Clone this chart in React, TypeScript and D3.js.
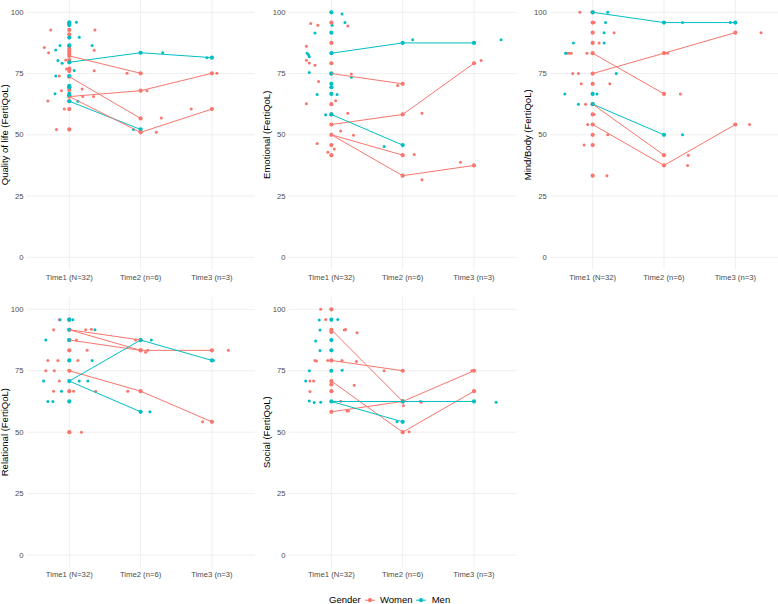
import React from 'react';
import * as d3 from 'd3';

const times = ['Time1 (N=32)', 'Time2 (n=6)', 'Time3 (n=3)'];
const yTicks = [0, 25, 50, 75, 100];
const titles = [
  'Quality of life (FertiQoL)',
  'Emotional (FertiQoL)',
  'Mind/Body (FertiQoL)',
  'Relational (FertiQoL)',
  'Social (FertiQoL)',
];
const colors: Record<string, string> = { W: '#F8766D', M: '#00BFC4' };

// participant trajectories: gender, time1, time2, time3
type Traj = [string, number, number | null, number | null];
// jittered points: gender, time index, x offset (in category steps), value
type Jit = [string, number, number, number];

// ---- Quality of life
const qolLines: Traj[] = [
  ['M', 79.6, 83.5, 81.5], ['M', 63.7, 52.2, null], ['W', 82.2, 75.1, null],
  ['W', 73.7, 56.7, null], ['W', 65.6, 68.0, 75.1], ['W', 65.6, 51.0, 60.5],
];
const qolT1W = [92.8, 91.0, 86.0, 85.0, 84.0, 83.0, 82.2, 80.5, 77.0, 76.0, 73.7, 69.4, 68.3, 65.6, 63.8, 60.5, 52.2];
const qolT1M = [95.9, 95.3, 94.8, 89.7, 86.5, 79.6, 74.0, 70.0, 69.4, 66.7, 66.1, 63.7];
const qolJit: Jit[] = [
  ['W', 0, -0.35, 85.6], ['W', 0, -0.29, 83.5], ['W', 0, -0.26, 92.8], ['W', 0, -0.18, 52.2],
  ['W', 0, -0.14, 74.0], ['W', 0, -0.11, 68.0], ['W', 0, -0.07, 60.5], ['W', 0, -0.05, 80.5],
  ['W', 0, -0.30, 63.8], ['W', 0, -0.04, 76.9], ['W', 0, 0.18, 68.7], ['W', 0, 0.19, 65.6],
  ['W', 0, 0.34, 65.6], ['W', 0, 0.35, 76.1], ['W', 0, 0.35, 84.5], ['W', 0, 0.36, 92.8],
  ['M', 0, -0.19, 84.6], ['M', 0, -0.16, 80.3], ['M', 0, -0.13, 86.5], ['M', 0, -0.10, 79.2],
  ['M', 0, -0.19, 74.0], ['M', 0, -0.20, 66.8], ['M', 0, 0.07, 76.2], ['M', 0, 0.10, 95.9],
  ['M', 0, 0.14, 89.8], ['M', 0, 0.12, 63.7], ['M', 0, 0.32, 86.5],
  ['M', 1, 0.31, 83.5], ['M', 1, -0.10, 52.2], ['W', 1, -0.19, 75.1], ['W', 1, 0.29, 56.9],
  ['W', 1, 0.09, 68.0], ['W', 1, 0.22, 51.0],
  ['M', 2, -0.07, 81.5], ['W', 2, 0.07, 75.1], ['W', 2, -0.29, 60.5],
];

// ---- Emotional
const emoLines: Traj[] = [
  ['M', 83.3, 87.5, 87.5], ['W', 75, 70.8, null], ['W', 54.2, 58.3, 79.2],
  ['M', 58.3, 45.8, null], ['W', 50, 41.7, null], ['W', 50, 33.3, 37.5],
];
const emoT1W = [95.8, 87.5, 79.2, 75, 62.5, 58.3, 54.2, 50, 45.8, 41.7];
const emoT1M = [100, 91.7, 83.3, 75, 70.8, 69.4, 66.7, 58.3];
const emoJit: Jit[] = [
  ['M', 0, 0.15, 99.3], ['M', 0, 0.19, 95.8], ['M', 0, 0.01, 94.7], ['M', 0, -0.23, 91.6],
  ['M', 0, -0.34, 83.3], ['M', 0, -0.32, 82.6], ['M', 0, -0.31, 81.9], ['M', 0, -0.31, 75.4],
  ['M', 0, -0.20, 66.5], ['M', 0, 0.08, 66.5], ['M', 0, 0.0, 69.4], ['M', 0, 0.28, 73.5],
  ['M', 0, -0.08, 58.2],
  ['W', 0, -0.29, 95.4], ['W', 0, -0.19, 94.7], ['W', 0, 0.23, 94.4], ['W', 0, -0.35, 86.1],
  ['W', 0, -0.35, 80.4], ['W', 0, -0.31, 79.3], ['W', 0, -0.23, 78.4], ['W', 0, -0.18, 71.8],
  ['W', 0, 0.28, 74.8], ['W', 0, -0.35, 62.7], ['W', 0, 0.06, 63.9], ['W', 0, 0.23, 58.8],
  ['W', 0, 0.13, 51.6], ['W', 0, 0.31, 49.8], ['W', 0, -0.20, 46.5], ['W', 0, -0.05, 42.9],
  ['W', 0, 0.04, 44.2], ['W', 0, 0.0, 41.6],
  ['M', 1, 0.14, 88.8], ['M', 1, -0.26, 45.2], ['W', 1, -0.07, 70.1], ['W', 1, 0.27, 58.8],
  ['W', 1, 0.16, 42.0], ['W', 1, 0.27, 31.7],
  ['M', 2, 0.38, 88.8], ['W', 2, 0.10, 80.3], ['W', 2, -0.19, 38.8],
];

// ---- Mind/Body
const mbLines: Traj[] = [
  ['M', 100, 95.8, 95.8], ['W', 75, 83.3, 91.7], ['W', 83.3, 66.7, null],
  ['M', 62.5, 50, null], ['W', 62.5, 41.7, null], ['W', 54.2, 37.5, 54.2],
];
const mbT1W = [100, 95.8, 91.7, 87.5, 83.3, 75, 70.8, 62.5, 58.3, 54.2, 50, 45.8, 33.3];
const mbT1M = [100, 66.7, 62.5];
const mbJit: Jit[] = [
  ['W', 0, -0.18, 100], ['W', 0, 0.30, 91.7], ['W', 0, 0.09, 87.5], ['W', 0, -0.36, 83.3],
  ['W', 0, -0.33, 83.3], ['W', 0, -0.30, 83.3], ['W', 0, -0.08, 83.3], ['W', 0, -0.28, 75],
  ['W', 0, -0.20, 75], ['W', 0, -0.16, 70.8], ['W', 0, 0.24, 70.8], ['W', 0, -0.10, 62.5],
  ['W', 0, -0.07, 54.2], ['W', 0, 0.21, 50], ['W', 0, -0.12, 45.8], ['W', 0, 0.20, 33.3],
  ['W', 0, 0.02, 58.3], ['W', 0, 0.02, 95.8],
  ['M', 0, 0.21, 100], ['M', 0, 0.18, 95.8], ['M', 0, -0.27, 87.5], ['M', 0, 0.16, 91.7],
  ['M', 0, 0.16, 87.5], ['M', 0, -0.38, 83.3], ['M', 0, 0.33, 75], ['M', 0, -0.39, 66.7],
  ['M', 0, 0.06, 66.7], ['M', 0, -0.20, 62.5],
  ['M', 1, 0.26, 95.8], ['M', 1, 0.26, 50], ['W', 1, 0.05, 83.3], ['W', 1, 0.23, 66.7],
  ['W', 1, 0.34, 41.7], ['W', 1, 0.33, 37.5],
  ['M', 2, -0.07, 95.8], ['W', 2, 0.36, 91.7], ['W', 2, 0.20, 54.2],
];

// ---- Relational
const relLines: Traj[] = [
  ['W', 91.7, 87.5, null], ['W', 91.7, 83.3, 83.3], ['W', 87.5, 83.3, null],
  ['W', 75, 66.7, 54.2], ['M', 70.8, 87.5, 79.2], ['M', 70.8, 58.3, null],
];
const relT1W = [95.8, 91.7, 87.5, 83.3, 75, 66.7, 50];
const relT1M = [95.8, 91.7, 87.5, 79.2, 70.8, 62.5];
const relJit: Jit[] = [
  ['W', 0, -0.14, 95.8], ['W', 0, -0.22, 91.7], ['W', 0, 0.23, 91.7], ['W', 0, 0.31, 91.9],
  ['W', 0, 0.10, 87.5], ['W', 0, 0.25, 83.3], ['W', 0, -0.30, 79.2], ['W', 0, -0.16, 79.2],
  ['W', 0, 0.12, 79.2], ['W', 0, -0.33, 75], ['W', 0, -0.21, 75], ['W', 0, -0.14, 70.8],
  ['W', 0, -0.22, 66.7], ['W', 0, 0.06, 66.7], ['W', 0, 0.37, 66.7], ['W', 0, 0.17, 50],
  ['M', 0, -0.33, 87.5], ['M', 0, -0.13, 95.8], ['M', 0, 0.05, 95.8], ['M', 0, 0.36, 91.7],
  ['M', 0, 0.32, 79.2], ['M', 0, -0.36, 70.8], ['M', 0, 0.14, 70.8], ['M', 0, 0.26, 70.8],
  ['M', 0, -0.30, 62.5], ['M', 0, -0.23, 62.5], ['M', 0, -0.11, 66.7],
  ['M', 1, 0.15, 87.5], ['M', 1, 0.13, 58.3], ['W', 1, -0.07, 87.5], ['W', 1, 0.07, 82.5],
  ['W', 1, 0.10, 83.3], ['W', 1, -0.18, 66.7],
  ['M', 2, 0.02, 79.2], ['W', 2, 0.23, 83.3], ['W', 2, -0.13, 54.2],
];

// ---- Social
const socLines: Traj[] = [
  ['W', 91.7, 62.5, null], ['W', 79.2, 75, null], ['W', 70.8, 50, 66.7],
  ['W', 58.3, 62.5, 75], ['M', 62.5, 62.5, 62.5], ['M', 62.5, 54.2, null],
];
const socT1W = [100, 91.7, 90.8, 79.2, 70.8, 69.4, 66.7, 58.3];
const socT1M = [95.8, 87.5, 83.3, 75, 62.5];
const socJit: Jit[] = [
  ['W', 0, -0.15, 100], ['W', 0, -0.08, 95.9], ['W', 0, 0.18, 91.6], ['W', 0, 0.20, 91.8],
  ['W', 0, 0.36, 90.5], ['W', 0, -0.23, 79.2], ['W', 0, -0.21, 79.0], ['W', 0, -0.05, 79.2],
  ['W', 0, 0.15, 79.2], ['W', 0, 0.35, 78.8], ['W', 0, -0.30, 70.8], ['W', 0, -0.25, 70.8],
  ['W', 0, -0.30, 66.6], ['W', 0, 0.32, 69.1], ['W', 0, 0.13, 62.6], ['W', 0, 0.22, 58.6],
  ['W', 0, 0.24, 58.6],
  ['M', 0, -0.17, 95.7], ['M', 0, 0.09, 95.9], ['M', 0, -0.16, 91.6], ['M', 0, -0.22, 87.1],
  ['M', 0, -0.16, 83.2], ['M', 0, -0.31, 75.0], ['M', 0, 0.15, 75.2], ['M', 0, -0.36, 70.8],
  ['M', 0, -0.31, 62.7], ['M', 0, -0.24, 62.1], ['M', 0, -0.15, 62.2],
  ['M', 1, 0.25, 62.5], ['M', 1, -0.08, 54.2], ['W', 1, -0.26, 75], ['W', 1, 0.26, 62.2],
  ['W', 1, 0.01, 60.8], ['W', 1, 0.09, 50.2],
  ['M', 2, 0.31, 62.2], ['W', 2, -0.03, 75], ['W', 2, 0.0, 66.7],
];

const panels = [
  { title: titles[0], lines: qolLines, t1W: qolT1W, t1M: qolT1M, jit: qolJit },
  { title: titles[1], lines: emoLines, t1W: emoT1W, t1M: emoT1M, jit: emoJit },
  { title: titles[2], lines: mbLines, t1W: mbT1W, t1M: mbT1M, jit: mbJit },
  { title: titles[3], lines: relLines, t1W: relT1W, t1M: relT1M, jit: relJit },
  { title: titles[4], lines: socLines, t1W: socT1W, t1M: socT1M, jit: socJit },
];

const W = 778;
const H = 604;
const font = '"Liberation Sans", Arial, Helvetica, sans-serif';
const panelW = 228.2;
const colLeft = [26.5, 288.6, 549.9];
const rowY = [[269.55, 0.05], [567.3, 297.05]];

function Panel({ p, i }: { p: typeof panels[number]; i: number }) {
  const left = colLeft[i % 3];
  const [bottom, top] = rowY[Math.floor(i / 3)];
  const x = d3.scalePoint<string>().domain(times).range([left, left + panelW]).padding(0.6);
  const step = x.step();
  const y = d3.scaleLinear().domain([-5, 105]).range([bottom, top]);
  const line = d3.line<[number, number]>().x(d => d[0]).y(d => d[1]);

  const colPts: [string, number, number][] = [];
  p.t1W.forEach(v => colPts.push(['W', 0, v]));
  p.t1M.forEach(v => colPts.push(['M', 0, v]));
  p.lines.forEach(l => {
    if (l[2] != null) colPts.push([l[0], 1, l[2]]);
    if (l[3] != null) colPts.push([l[0], 2, l[3]]);
  });

  return (
    <g>
      {yTicks.map(t => (
        <line key={'h' + t} x1={left} x2={left + panelW} y1={y(t)} y2={y(t)} stroke="#EBEBEB" strokeWidth={0.8} />
      ))}
      {times.map(t => (
        <line key={'v' + t} x1={x(t)} x2={x(t)} y1={top} y2={bottom} stroke="#EBEBEB" strokeWidth={0.8} />
      ))}
      {yTicks.map(t => (
        <text key={'yl' + t} x={left - 3} y={y(t)} dy="0.35em" textAnchor="end" fontSize={7.7} fill="#4D4D4D" fontFamily={font}>{t}</text>
      ))}
      {times.map(t => (
        <text key={'xl' + t} x={x(t)} y={bottom + 10} textAnchor="middle" fontSize={7.7} fill="#4D4D4D" fontFamily={font}>{t}</text>
      ))}
      <text transform={`translate(${left - 18.8},${(top + bottom) / 2}) rotate(-90)`} textAnchor="middle" fontSize={9.5} fill="#000" fontFamily={font}>{p.title}</text>
      {p.jit.map((d, k) => (
        <circle key={'j' + k} cx={(x(times[d[1]]) as number) + d[2] * step} cy={y(d[3])} r={1.5} fill={colors[d[0]]} />
      ))}
      {colPts.map((d, k) => (
        <circle key={'c' + k} cx={x(times[d[1]])} cy={y(d[2])} r={2.1} fill={colors[d[0]]} />
      ))}
      {p.lines.map((l, k) => {
        const pts: [number, number][] = [];
        [l[1], l[2], l[3]].forEach((v, ti) => {
          if (v != null) pts.push([x(times[ti]) as number, y(v)]);
        });
        return <path key={'l' + k} d={line(pts) || ''} fill="none" stroke={colors[l[0]]} strokeWidth={1} />;
      })}
    </g>
  );
}

export default function App() {
  return (
    <div style={{ position: 'absolute', left: 0, top: 0 }}>
      <svg width={W} height={H} style={{ display: 'block', background: '#fff' }}>
        {panels.map((p, i) => <Panel key={i} p={p} i={i} />)}
        <g fontFamily={font} fontSize={9.5}>
          <text x={329} y={603}>Gender</text>
          <line x1={365} x2={375} y1={600.2} y2={600.2} stroke={colors.W} strokeWidth={1} />
          <circle cx={370} cy={600.2} r={2.1} fill={colors.W} />
          <text x={380} y={603}>Women</text>
          <line x1={416} x2={426} y1={600.2} y2={600.2} stroke={colors.M} strokeWidth={1} />
          <circle cx={421} cy={600.2} r={2.1} fill={colors.M} />
          <text x={431.7} y={603}>Men</text>
        </g>
      </svg>
    </div>
  );
}
